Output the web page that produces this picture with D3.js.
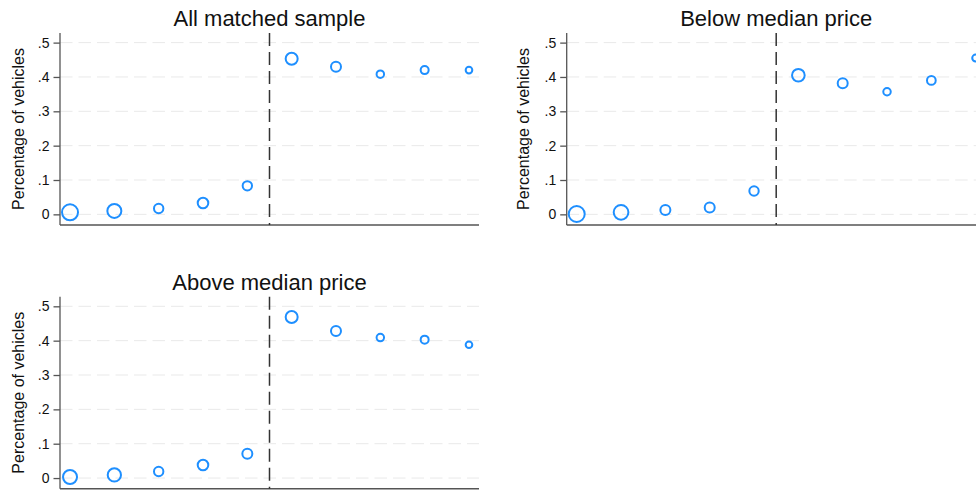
<!DOCTYPE html>
<html>
<head>
<meta charset="utf-8">
<script src="https://cdn.jsdelivr.net/npm/d3@7"></script>
<style>
	body { margin: 0; background: #fff; }
	svg { display: block; font-family: "Liberation Sans", Arial, sans-serif; }
	.yaxis text { font-size: 14px; fill: #111; font-family: "Liberation Sans", Arial, sans-serif; }
</style>
</head>
<body>
<div id="chart"></div>
<script>
// bins around the cutoff (5 below, 5 above)
var bins = [0, 1, 2, 3, 4, 5, 6, 7, 8, 9];
var yTicks = [0, 0.1, 0.2, 0.3, 0.4, 0.5];
var titles = ["All matched sample", "Below median price", "Above median price"];

// share of vehicles in each bin
var allValues   = [0.006, 0.010, 0.017, 0.033, 0.083, 0.453, 0.430, 0.408, 0.420, 0.420];
var belowValues = [0.001, 0.006, 0.013, 0.020, 0.068, 0.405, 0.382, 0.357, 0.390, 0.455];
var aboveValues = [0.003, 0.009, 0.019, 0.038, 0.071, 0.469, 0.428, 0.409, 0.403, 0.388];

// marker weights (observations per bin, relative)
var allWeights   = [64, 49, 22, 28, 22, 36, 25, 14, 16, 11];
var belowWeights = [64, 54, 25, 25, 22, 40, 25, 14, 19, 12];
var aboveWeights = [49, 44, 22, 28, 25, 36, 25, 14, 16, 11];

var panels = [
	{title: titles[0], values: allValues, weights: allWeights, x: 60, y: 33, lab: 23.5},
	{title: titles[1], values: belowValues, weights: belowWeights, x: 566.7, y: 33, lab: 529},
	{title: titles[2], values: aboveValues, weights: aboveWeights, x: 60, y: 296.7, lab: 23.5}
];

var width = 976, height = 491;
var plotW = 419, plotH = 192;
var blue = "#1e8fff";

var svg = d3.select("#chart")
	.append("svg")
	.attr("width", width)
	.attr("height", height);

var x = d3.scaleLinear().domain([-0.226, 9.226]).range([0, plotW]);
var y = d3.scaleLinear().domain([-0.031, 0.528]).range([plotH, 0]);
var r = d3.scaleSqrt().domain([0, 64]).range([0, 8]);

var fmt = function(d){
	if(d === 0){ return "0"; }
	return d3.format(".1f")(d).replace(/^0/, "");
};

panels.forEach(function(p){
	var g = svg.append("g").attr("transform", "translate(" + p.x + "," + p.y + ")");

	//grid
	g.selectAll(".grid")
		.data(yTicks)
		.enter()
		.append("line")
		.attr("x1", 0)
		.attr("x2", plotW)
		.attr("y1", function(d){ return y(d); })
		.attr("y2", function(d){ return y(d); })
		.style("stroke", "#e9e9e9")
		.style("stroke-width", 1)
		.style("stroke-dasharray", "12.5,6");

	//y axis
	var ax = g.append("g")
		.attr("class", "yaxis")
		.call(d3.axisLeft(y).tickValues(yTicks).tickFormat(fmt).tickSize(6.5).tickPadding(4));
	ax.attr("font-size", 14).attr("font-family", null);
	ax.select(".domain").attr("d", "M0," + plotH + "V0").style("stroke", "#555").style("stroke-width", 1.3);
	ax.selectAll(".tick line").style("stroke", "#555").style("stroke-width", 1.3);

	//x axis line (no ticks)
	g.append("line")
		.attr("x1", 0)
		.attr("x2", plotW)
		.attr("y1", plotH)
		.attr("y2", plotH)
		.style("stroke", "#555")
		.style("stroke-width", 1.5);

	//cutoff
	g.append("line")
		.attr("x1", x(4.5))
		.attr("x2", x(4.5))
		.attr("y1", 0)
		.attr("y2", plotH)
		.style("stroke", "#333")
		.style("stroke-width", 1.5)
		.style("stroke-dasharray", "13,6");

	//points
	g.selectAll(".pt")
		.data(bins)
		.enter()
		.append("circle")
		.attr("cx", function(d){ return x(d); })
		.attr("cy", function(d, i){ return y(p.values[i]); })
		.attr("r", function(d, i){ return r(p.weights[i]); })
		.style("fill", "none")
		.style("stroke", blue)
		.style("stroke-width", 2);

	//title
	g.append("text")
		.attr("x", plotW / 2)
		.attr("y", -7)
		.attr("text-anchor", "middle")
		.style("font-size", "22px")
		.style("fill", "#111")
		.text(p.title);

	//y label
	g.append("text")
		.attr("transform", "translate(" + (p.lab - p.x) + "," + (plotH / 2) + ") rotate(-90)")
		.attr("text-anchor", "middle")
		.style("font-size", "16px")
		.style("fill", "#111")
		.text("Percentage of vehicles");
});
</script>
</body>
</html>
